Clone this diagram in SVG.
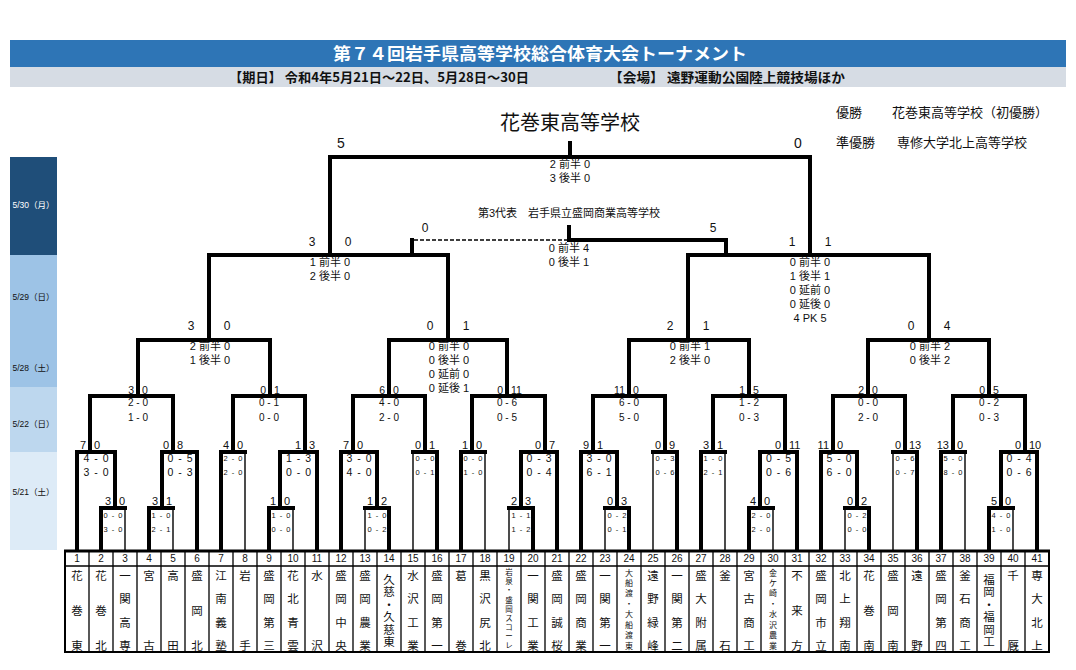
<svg xmlns="http://www.w3.org/2000/svg" width="1076" height="670" viewBox="0 0 1076 670">
<style>
text{font-family:"Liberation Sans","Noto Sans CJK JP",sans-serif;fill:#111}
.k{stroke:#000;stroke-width:4;fill:none;stroke-linecap:square}
.t{stroke:#000;stroke-width:1.4;fill:none}
.d{stroke:#000;stroke-width:1.3;fill:none;stroke-dasharray:4 2}
.g{stroke:#000;stroke-width:1.3;fill:none}
.lb{font-size:11px}
.lb2{font-size:12px}
.l{text-anchor:end}
.r{text-anchor:start}
.m{text-anchor:middle}
.sc{font-size:11px;text-anchor:middle}
.rs{font-size:10px;text-anchor:middle}
.ms{font-size:10.5px;text-anchor:middle}
.ss{font-size:7.5px;text-anchor:middle}
.num{font-size:10px;text-anchor:middle;dominant-baseline:central}
.nm{font-family:"Noto Sans CJK JP",sans-serif;font-size:11.5px;text-anchor:middle;dominant-baseline:central}
.nms{font-family:"Noto Sans CJK JP",sans-serif;font-size:7.5px;text-anchor:middle;dominant-baseline:central}
.dt{font-size:8.5px;text-anchor:middle}
.hd{font-family:"Noto Sans CJK JP",sans-serif;font-weight:bold}
.jp{font-family:"Noto Sans CJK JP",sans-serif;font-size:13px}
</style>
<rect x="0" y="0" width="1076" height="670" fill="#fff"/>

<g id="header">
<rect x="10" y="40" width="1056" height="27" fill="#2E75B6"/>
<rect x="10" y="67" width="1056" height="20" fill="#D6DCE4"/>
<text class="hd m" x="540" y="59.5" font-size="17" fill="#fff" style="fill:#fff" textLength="414" lengthAdjust="spacingAndGlyphs">第７４回岩手県高等学校総合体育大会トーナメント</text>
<text class="hd" x="229" y="81.5" font-size="13" textLength="300" lengthAdjust="spacingAndGlyphs">【期日】 令和4年5月21日～22日、5月28日～30日</text>
<text class="hd" x="609" y="81.5" font-size="13" textLength="236" lengthAdjust="spacingAndGlyphs">【会場】 遠野運動公園陸上競技場ほか</text>
</g>

<g id="dates">
<rect x="10" y="157" width="47" height="98" fill="#1F4E79"/>
<rect x="10" y="255" width="47" height="132" fill="#9DC3E6"/>
<rect x="10" y="387" width="47" height="65" fill="#BDD7EE"/>
<rect x="10" y="452" width="47" height="98" fill="#DDEBF7"/>
<text class="dt" x="33.5" y="208" style="fill:#fff">5/30（月）</text>
<text class="dt" x="33.5" y="300">5/29（日）</text>
<text class="dt" x="33.5" y="371">5/28（土）</text>
<text class="dt" x="33.5" y="427">5/22（日）</text>
<text class="dt" x="33.5" y="495">5/21（土）</text>
</g>

<g id="result">
<text class="jp m" x="570" y="129.5" font-size="20" style="font-size:20px">花巻東高等学校</text>
<text class="jp" x="836" y="117">優勝</text>
<text class="jp" x="892" y="117">花巻東高等学校（初優勝）</text>
<text class="jp" x="836" y="147">準優勝</text>
<text class="jp" x="897" y="147">専修大学北上高等学校</text>
</g>

<g id="connectors">
<path class="k" d="M330 157H810 M209 255H448 M688 255H929 M138 340H270 M389 340H507 M629 340H749 M868 340H989 M90 396H173 M233 396H305 M353 396H425 M472 396H545 M593 396H665 M713 396H785 M833 396H905 M953 396H1025 M77 452H115 M162 452H197 M221 452H245 M280 452H317 M341 452H377 M413 452H437 M461 452H485 M521 452H557 M581 452H617 M653 452H677 M701 452H725 M760 452H797 M821 452H857 M893 452H917 M941 452H965 M1001 452H1037 M101 508H125 M149 508H173 M269 508H293 M365 508H389 M509 508H533 M605 508H629 M749 508H773 M845 508H869 M989 508H1013 M569 240H726"/>
<path class="k" d="M570 143V157 M330 157V255 M810 157V255 M209 255V340 M448 255V340 M688 255V340 M929 255V340 M138 340V396 M270 340V396 M389 340V396 M507 340V396 M629 340V396 M749 340V396 M868 340V396 M989 340V396 M90 396V452 M173 396V452 M233 396V452 M305 396V452 M353 396V452 M425 396V452 M472 396V452 M545 396V452 M593 396V452 M665 396V452 M713 396V452 M785 396V452 M833 396V452 M905 396V452 M953 396V452 M1025 396V452 M115 452V508 M162 452V508 M280 452V508 M377 452V508 M521 452V508 M617 452V508 M760 452V508 M857 452V508 M1001 452V508 M569 227V240 M412 240V255 M726 240V255"/>
<path class="k" d="M77 550V452 M197 550V452 M221 550V452 M317 550V452 M341 550V452 M437 550V452 M461 550V452 M557 550V452 M581 550V452 M677 550V452 M701 550V452 M797 550V452 M821 550V452 M917 550V452 M941 550V452 M1037 550V452 M101 550V508 M149 550V508 M269 550V508 M389 550V508 M533 550V508 M629 550V508 M749 550V508 M869 550V508 M989 550V508"/>
<path class="t" d="M245 551V452 M413 551V452 M485 551V452 M653 551V452 M725 551V452 M893 551V452 M965 551V452 M125 551V508 M173 551V508 M293 551V508 M365 551V508 M509 551V508 M605 551V508 M773 551V508 M845 551V508 M1013 551V508"/>
<path class="d" d="M414 240H567"/>
</g>

<g id="match-final">
<text class="m" x="341" y="148" font-size="14" style="font-size:14px">5</text>
<text class="m" x="798" y="148" style="font-size:14px">0</text>
<text class="sc" x="570" y="168">2 前半 0</text>
<text class="sc" x="570" y="182">3 後半 0</text>
</g>
<g id="match-third">
<text class="sc" x="569" y="217">第3代表　岩手県立盛岡商業高等学校</text>
<text class="lb2 m" x="425" y="231.5">0</text>
<text class="lb2 m" x="713" y="231.5">5</text>
<text class="sc" x="569" y="252">0 前半 4</text>
<text class="sc" x="569" y="266">0 後半 1</text>
</g>
<g id="match-sf1">
<text class="lb2 m" x="312" y="245.5">3</text>
<text class="lb2 m" x="348" y="245.5">0</text>
<text class="sc" x="330" y="266">1 前半 0</text>
<text class="sc" x="330" y="280">2 後半 0</text>
</g>
<g id="match-sf2">
<text class="lb2 m" x="792" y="245.5">1</text>
<text class="lb2 m" x="828" y="245.5">1</text>
<text class="sc" x="810" y="266">0 前半 0</text>
<text class="sc" x="810" y="280">1 後半 1</text>
<text class="sc" x="810" y="294">0 延前 0</text>
<text class="sc" x="810" y="308">0 延後 0</text>
<text class="sc" x="810" y="322">4 PK 5</text>
</g>
<g id="match-qf">
<text class="lb2 m" x="191" y="330">3</text><text class="lb2 m" x="227" y="330">0</text>
<text class="sc" x="210" y="350">2 前半 0</text><text class="sc" x="210" y="364">1 後半 0</text>
<text class="lb2 m" x="430" y="330">0</text><text class="lb2 m" x="466" y="330">1</text>
<text class="sc" x="449" y="350">0 前半 0</text><text class="sc" x="449" y="364">0 後半 0</text>
<text class="sc" x="449" y="378">0 延前 0</text><text class="sc" x="449" y="392">0 延後 1</text>
<text class="lb2 m" x="670" y="330">2</text><text class="lb2 m" x="706" y="330">1</text>
<text class="sc" x="690" y="350">0 前半 1</text><text class="sc" x="690" y="364">2 後半 0</text>
<text class="lb2 m" x="911" y="330">0</text><text class="lb2 m" x="947" y="330">4</text>
<text class="sc" x="930" y="350">0 前半 2</text><text class="sc" x="930" y="364">0 後半 2</text>
</g>
<g id="match-r2" font-size="10.5">
<text class="l" x="134" y="394">3</text><text class="r" x="142" y="394">0</text>
<text class="rs" x="138" y="406">2 - 0</text><text class="rs" x="138" y="421">1 - 0</text>
<text class="l" x="266" y="394">0</text><text class="r" x="274" y="394">1</text>
<text class="rs" x="269" y="406">0 - 1</text><text class="rs" x="269" y="421">0 - 0</text>
<text class="l" x="385" y="394">6</text><text class="r" x="393" y="394">0</text>
<text class="rs" x="389" y="406">4 - 0</text><text class="rs" x="389" y="421">2 - 0</text>
<text class="l" x="503" y="394">0</text><text class="r" x="511" y="394">11</text>
<text class="rs" x="507" y="406">0 - 6</text><text class="rs" x="507" y="421">0 - 5</text>
<text class="l" x="625" y="394">11</text><text class="r" x="633" y="394">0</text>
<text class="rs" x="629" y="406">6 - 0</text><text class="rs" x="629" y="421">5 - 0</text>
<text class="l" x="745" y="394">1</text><text class="r" x="753" y="394">5</text>
<text class="rs" x="749" y="406">1 - 2</text><text class="rs" x="749" y="421">0 - 3</text>
<text class="l" x="864" y="394">2</text><text class="r" x="872" y="394">0</text>
<text class="rs" x="868" y="406">0 - 0</text><text class="rs" x="868" y="421">2 - 0</text>
<text class="l" x="985" y="394">0</text><text class="r" x="993" y="394">5</text>
<text class="rs" x="989" y="406">0 - 2</text><text class="rs" x="989" y="421">0 - 3</text>
</g>
<g id="match-r1" font-size="11">
<text class="l" x="86" y="449">7</text><text class="r" x="94" y="449">0</text>
<text class="ms" x="96" y="462" textLength="25">4 - 0</text><text class="ms" x="96" y="476" textLength="25">3 - 0</text>
<text class="l" x="169" y="449">0</text><text class="r" x="177" y="449">8</text>
<text class="ms" x="180" y="462" textLength="25">0 - 5</text><text class="ms" x="180" y="476" textLength="25">0 - 3</text>
<text class="l" x="229" y="449">4</text><text class="r" x="237" y="449">0</text>
<text class="ss" x="233" y="461" textLength="19">2 - 0</text><text class="ss" x="233" y="475" textLength="19">2 - 0</text>
<text class="l" x="301" y="449">1</text><text class="r" x="309" y="449">3</text>
<text class="ms" x="298.5" y="462" textLength="25">1 - 3</text><text class="ms" x="298.5" y="476" textLength="25">0 - 0</text>
<text class="l" x="349" y="449">7</text><text class="r" x="357" y="449">0</text>
<text class="ms" x="359" y="462" textLength="25">3 - 0</text><text class="ms" x="359" y="476" textLength="25">4 - 0</text>
<text class="l" x="421" y="449">0</text><text class="r" x="429" y="449">1</text>
<text class="ss" x="425" y="461" textLength="19">0 - 0</text><text class="ss" x="425" y="475" textLength="19">0 - 1</text>
<text class="l" x="468" y="449">1</text><text class="r" x="476" y="449">0</text>
<text class="ss" x="473" y="461" textLength="19">0 - 0</text><text class="ss" x="473" y="475" textLength="19">1 - 0</text>
<text class="l" x="541" y="449">0</text><text class="r" x="549" y="449">7</text>
<text class="ms" x="539" y="462" textLength="25">0 - 3</text><text class="ms" x="539" y="476" textLength="25">0 - 4</text>
<text class="l" x="589" y="449">9</text><text class="r" x="597" y="449">1</text>
<text class="ms" x="599" y="462" textLength="25">3 - 0</text><text class="ms" x="599" y="476" textLength="25">6 - 1</text>
<text class="l" x="661" y="449">0</text><text class="r" x="669" y="449">9</text>
<text class="ss" x="665" y="461" textLength="19">0 - 3</text><text class="ss" x="665" y="475" textLength="19">0 - 6</text>
<text class="l" x="709" y="449">3</text><text class="r" x="717" y="449">1</text>
<text class="ss" x="713" y="461" textLength="19">1 - 0</text><text class="ss" x="713" y="475" textLength="19">2 - 1</text>
<text class="l" x="781" y="449">0</text><text class="r" x="789" y="449">11</text>
<text class="ms" x="778.5" y="462" textLength="25">0 - 5</text><text class="ms" x="778.5" y="476" textLength="25">0 - 6</text>
<text class="l" x="829" y="449">11</text><text class="r" x="837" y="449">0</text>
<text class="ms" x="839" y="462" textLength="25">5 - 0</text><text class="ms" x="839" y="476" textLength="25">6 - 0</text>
<text class="l" x="901" y="449">0</text><text class="r" x="909" y="449">13</text>
<text class="ss" x="905" y="461" textLength="19">0 - 6</text><text class="ss" x="905" y="475" textLength="19">0 - 7</text>
<text class="l" x="949" y="449">13</text><text class="r" x="957" y="449">0</text>
<text class="ss" x="953" y="461" textLength="19">5 - 0</text><text class="ss" x="953" y="475" textLength="19">8 - 0</text>
<text class="l" x="1021" y="449">0</text><text class="r" x="1029" y="449">10</text>
<text class="ms" x="1019" y="462" textLength="25">0 - 4</text><text class="ms" x="1019" y="476" textLength="25">0 - 6</text>
</g>
<g id="match-r0" font-size="11">
<text class="l" x="111" y="505">3</text><text class="r" x="119" y="505">0</text>
<text class="ss" x="113" y="518" textLength="19">0 - 0</text><text class="ss" x="113" y="532" textLength="19">3 - 0</text>
<text class="l" x="158" y="505">3</text><text class="r" x="166" y="505">1</text>
<text class="ss" x="161" y="518" textLength="19">1 - 0</text><text class="ss" x="161" y="532" textLength="19">2 - 1</text>
<text class="l" x="276" y="505">1</text><text class="r" x="284" y="505">0</text>
<text class="ss" x="281" y="518" textLength="19">1 - 0</text><text class="ss" x="281" y="532" textLength="19">0 - 0</text>
<text class="l" x="373" y="505">1</text><text class="r" x="381" y="505">2</text>
<text class="ss" x="377" y="518" textLength="19">1 - 0</text><text class="ss" x="377" y="532" textLength="19">0 - 2</text>
<text class="l" x="517" y="505">2</text><text class="r" x="525" y="505">3</text>
<text class="ss" x="521" y="518" textLength="19">1 - 1</text><text class="ss" x="521" y="532" textLength="19">1 - 2</text>
<text class="l" x="613" y="505">0</text><text class="r" x="621" y="505">3</text>
<text class="ss" x="617" y="518" textLength="19">0 - 2</text><text class="ss" x="617" y="532" textLength="19">0 - 1</text>
<text class="l" x="756" y="505">4</text><text class="r" x="764" y="505">0</text>
<text class="ss" x="761" y="518" textLength="19">2 - 0</text><text class="ss" x="761" y="532" textLength="19">2 - 0</text>
<text class="l" x="853" y="505">0</text><text class="r" x="861" y="505">2</text>
<text class="ss" x="857" y="518" textLength="19">0 - 2</text><text class="ss" x="857" y="532" textLength="19">0 - 0</text>
<text class="l" x="997" y="505">5</text><text class="r" x="1005" y="505">0</text>
<text class="ss" x="1001" y="518" textLength="19">4 - 0</text><text class="ss" x="1001" y="532" textLength="19">1 - 0</text>
</g>

<g id="table-grid">
<path class="g" d="M89 551V652 M113 551V652 M137 551V652 M161 551V652 M185 551V652 M209 551V652 M233 551V652 M257 551V652 M281 551V652 M305 551V652 M329 551V652 M353 551V652 M377 551V652 M401 551V652 M425 551V652 M449 551V652 M473 551V652 M497 551V652 M521 551V652 M545 551V652 M569 551V652 M593 551V652 M617 551V652 M641 551V652 M665 551V652 M689 551V652 M713 551V652 M737 551V652 M761 551V652 M785 551V652 M809 551V652 M833 551V652 M857 551V652 M881 551V652 M905 551V652 M929 551V652 M953 551V652 M977 551V652 M1001 551V652 M1025 551V652"/>
<path d="M65 566H1049" stroke="#000" stroke-width="1.6"/>
<rect x="65" y="551" width="984" height="101" fill="none" stroke="#000" stroke-width="2"/>
<path d="M64 551H1050" stroke="#000" stroke-width="3"/>
</g>

<g id="teams">
<g id="team1"><text class="num" x="77" y="558.5">1</text><text class="nm" x="77 77 77" y="575 610 645">花巻東</text></g>
<g id="team2"><text class="num" x="101" y="558.5">2</text><text class="nm" x="101 101 101" y="575 610 645">花巻北</text></g>
<g id="team3"><text class="num" x="125" y="558.5">3</text><text class="nm" x="125 125 125 125" y="575 598.3 621.7 645">一関高専</text></g>
<g id="team4"><text class="num" x="149" y="558.5">4</text><text class="nm" x="149 149" y="575 645">宮古</text></g>
<g id="team5"><text class="num" x="173" y="558.5">5</text><text class="nm" x="173 173" y="575 645">高田</text></g>
<g id="team6"><text class="num" x="197" y="558.5">6</text><text class="nm" x="197 197 197" y="575 610 645">盛岡北</text></g>
<g id="team7"><text class="num" x="221" y="558.5">7</text><text class="nm" x="221 221 221 221" y="575 598.3 621.7 645">江南義塾</text></g>
<g id="team8"><text class="num" x="245" y="558.5">8</text><text class="nm" x="245 245" y="575 645">岩手</text></g>
<g id="team9"><text class="num" x="269" y="558.5">9</text><text class="nm" x="269 269 269 269" y="575 598.3 621.7 645">盛岡第三</text></g>
<g id="team10"><text class="num" x="293" y="558.5">10</text><text class="nm" x="293 293 293 293" y="575 598.3 621.7 645">花北青雲</text></g>
<g id="team11"><text class="num" x="317" y="558.5">11</text><text class="nm" x="317 317" y="575 645">水沢</text></g>
<g id="team12"><text class="num" x="341" y="558.5">12</text><text class="nm" x="341 341 341 341" y="575 598.3 621.7 645">盛岡中央</text></g>
<g id="team13"><text class="num" x="365" y="558.5">13</text><text class="nm" x="365 365 365 365" y="575 598.3 621.7 645">盛岡農業</text></g>
<g id="team14"><text class="num" x="389" y="558.5">14</text><text class="nm" x="389 389 389 389 389 389" y="578.5 591 603.5 616 628.5 641">久慈・久慈東</text></g>
<g id="team15"><text class="num" x="413" y="558.5">15</text><text class="nm" x="413 413 413 413" y="575 598.3 621.7 645">水沢工業</text></g>
<g id="team16"><text class="num" x="437" y="558.5">16</text><text class="nm" x="437 437 437 437" y="575 598.3 621.7 645">盛岡第一</text></g>
<g id="team17"><text class="num" x="461" y="558.5">17</text><text class="nm" x="461 461" y="575 645">葛巻</text></g>
<g id="team18"><text class="num" x="485" y="558.5">18</text><text class="nm" x="485 485 485 485" y="575 598.3 621.7 645">黒沢尻北</text></g>
<g id="team19"><text class="num" x="509" y="558.5">19</text><text class="nms" x="509 509 509 509 509 509 509 509 509" y="571.5 580.7 589.8 599 608.2 617.3 626.5 635.7 644.8">岩泉・盛岡スコーレ</text></g>
<g id="team20"><text class="num" x="533" y="558.5">20</text><text class="nm" x="533 533 533 533" y="575 598.3 621.7 645">一関工業</text></g>
<g id="team21"><text class="num" x="557" y="558.5">21</text><text class="nm" x="557 557 557 557" y="575 598.3 621.7 645">盛岡誠桜</text></g>
<g id="team22"><text class="num" x="581" y="558.5">22</text><text class="nm" x="581 581 581 581" y="575 598.3 621.7 645">盛岡商業</text></g>
<g id="team23"><text class="num" x="605" y="558.5">23</text><text class="nm" x="605 605 605 605" y="575 598.3 621.7 645">一関第一</text></g>
<g id="team24"><text class="num" x="629" y="558.5">24</text><text class="nms" x="629 629 629 629 629 629 629 629" y="572 582.4 592.9 603.3 613.7 624.1 634.6 645" style="font-size:8px">大船渡・大船渡東</text></g>
<g id="team25"><text class="num" x="653" y="558.5">25</text><text class="nm" x="653 653 653 653" y="575 598.3 621.7 645">遠野緑峰</text></g>
<g id="team26"><text class="num" x="677" y="558.5">26</text><text class="nm" x="677 677 677 677" y="575 598.3 621.7 645">一関第二</text></g>
<g id="team27"><text class="num" x="701" y="558.5">27</text><text class="nm" x="701 701 701 701" y="575 598.3 621.7 645">盛大附属</text></g>
<g id="team28"><text class="num" x="725" y="558.5">28</text><text class="nm" x="725 725" y="575 645">釜石</text></g>
<g id="team29"><text class="num" x="749" y="558.5">29</text><text class="nm" x="749 749 749 749" y="575 598.3 621.7 645">宮古商工</text></g>
<g id="team30"><text class="num" x="773" y="558.5">30</text><text class="nms" x="773 773 773 773 773 773 773 773" y="572 582.4 592.9 603.3 613.7 624.1 634.6 645" style="font-size:8px">金ケ崎・水沢農業</text></g>
<g id="team31"><text class="num" x="797" y="558.5">31</text><text class="nm" x="797 797 797" y="575 610 645">不来方</text></g>
<g id="team32"><text class="num" x="821" y="558.5">32</text><text class="nm" x="821 821 821 821" y="575 598.3 621.7 645">盛岡市立</text></g>
<g id="team33"><text class="num" x="845" y="558.5">33</text><text class="nm" x="845 845 845 845" y="575 598.3 621.7 645">北上翔南</text></g>
<g id="team34"><text class="num" x="869" y="558.5">34</text><text class="nm" x="869 869 869" y="575 610 645">花巻南</text></g>
<g id="team35"><text class="num" x="893" y="558.5">35</text><text class="nm" x="893 893 893" y="575 610 645">盛岡南</text></g>
<g id="team36"><text class="num" x="917" y="558.5">36</text><text class="nm" x="917 917" y="575 645">遠野</text></g>
<g id="team37"><text class="num" x="941" y="558.5">37</text><text class="nm" x="941 941 941 941" y="575 598.3 621.7 645">盛岡第四</text></g>
<g id="team38"><text class="num" x="965" y="558.5">38</text><text class="nm" x="965 965 965 965" y="575 598.3 621.7 645">釜石商工</text></g>
<g id="team39"><text class="num" x="989" y="558.5">39</text><text class="nm" x="989 989 989 989 989 989" y="578.5 591 603.5 616 628.5 641">福岡・福岡工</text></g>
<g id="team40"><text class="num" x="1013" y="558.5">40</text><text class="nm" x="1013 1013" y="575 645">千厩</text></g>
<g id="team41"><text class="num" x="1037" y="558.5">41</text><text class="nm" x="1037 1037 1037 1037" y="575 598.3 621.7 645">専大北上</text></g>
</g>
</svg>
